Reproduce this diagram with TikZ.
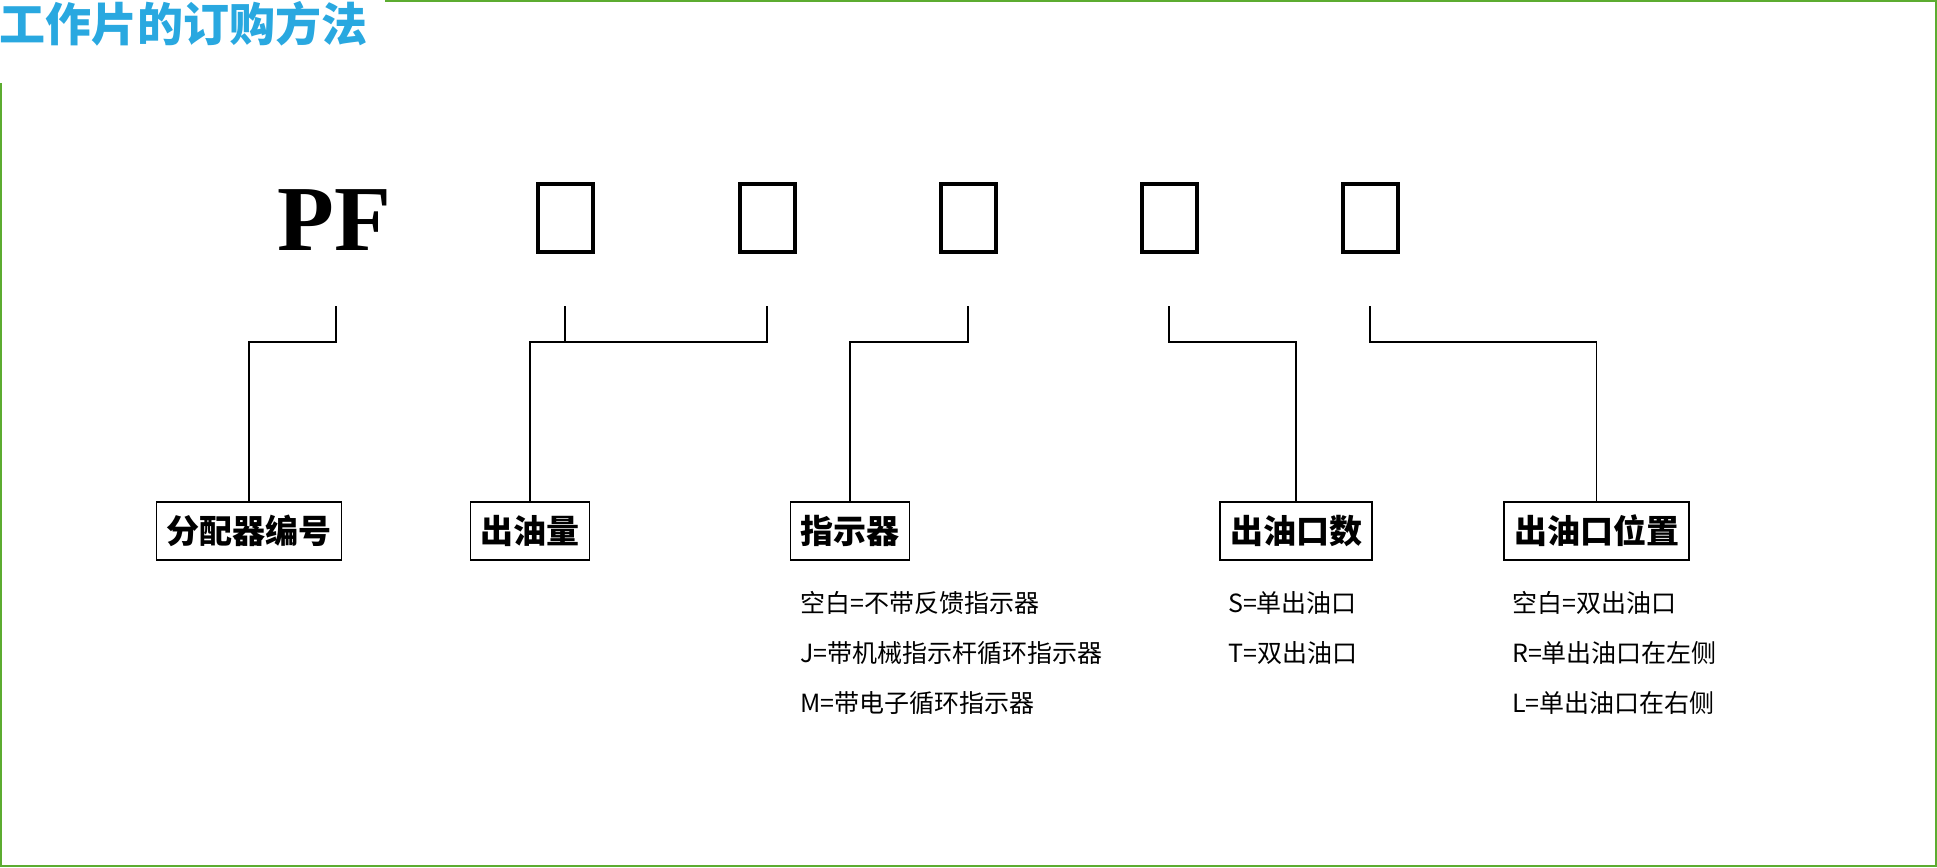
\documentclass[tikz,border=0pt]{standalone}
\usepackage{fontspec}
\setmainfont{Liberation Serif}
\newfontfamily\cjk{Noto Sans CJK SC}
\usetikzlibrary{positioning}
\definecolor{TitleBlue}{RGB}{41,168,224}
\definecolor{FrameGreen}{RGB}{92,172,48}

\begin{document}
\begin{tikzpicture}[
        x=1pt, y=-1pt,
        slot/.style={draw, line width=4pt, minimum width=55pt, minimum height=68pt, inner sep=0pt},
        field/.style={draw, line width=1.8pt, minimum height=58pt, inner xsep=10pt, font=\cjk\bfseries\fontsize{33}{33}\selectfont},
        note/.style={anchor=north west, inner sep=0pt, align=left, font=\cjk\fontsize{25}{50}\selectfont},
        link/.style={line width=1.8pt}
    ]
    \useasboundingbox (0,0) rectangle (1937,867);
    % frame and title
    \draw[FrameGreen, line width=2pt] (385,1) -- (1936,1) -- (1936,866) -- (1,866) -- (1,83);
    \node[anchor=west, inner sep=0pt, text=TitleBlue, font=\cjk\bfseries\fontsize{46}{46}\selectfont] (title) at (-1,24) {工作片的订购方法};

    % code: PF + five slots
    \node[anchor=base, inner sep=0pt, font=\bfseries\fontsize{93}{93}\selectfont] (pf) at (334,250) {PF};
    \coordinate[below=56pt of pf.south, xshift=2pt] (t0);
    \foreach \i/\x in {1/565,2/767,3/968,4/1169,5/1370} {
        \node[slot] (s\i) at (\x,218) {};
        \coordinate[below=52pt of s\i.south] (t\i);
    }

    % fields
    \node[field] (f1) at (249,531) {分配器编号};
    \node[field] (f2) at (530,531) {出油量};
    \node[field] (f3) at (850,531) {指示器};
    \node[field] (f4) at (1296,531) {出油口数};
    \node[field] (f5) at (1596.5,531) {出油口位置};

    \draw[link] (t0) -- ++(0,36) -| (f1.north);
    \draw[link] (t1) -- ++(0,36);
    \draw[link] (t2) -- ++(0,36) -| (f2.north);
    \draw[link] (t3) -- ++(0,36) -| (f3.north);
    \draw[link] (t4) -- ++(0,36) -| (f4.north);
    \draw[link] (t5) -- ++(0,36) -| (f5.north);

    % options
    \node[note] (n3) at (800,591) {空白=不带反馈指示器\\J=带机械指示杆循环指示器\\M=带电子循环指示器};
    \node[note] (n4) at (1228,591) {S=单出油口\\T=双出油口};
    \node[note] (n5) at (1512,591) {空白=双出油口\\R=单出油口在左侧\\L=单出油口在右侧};
\end{tikzpicture}
\end{document}
